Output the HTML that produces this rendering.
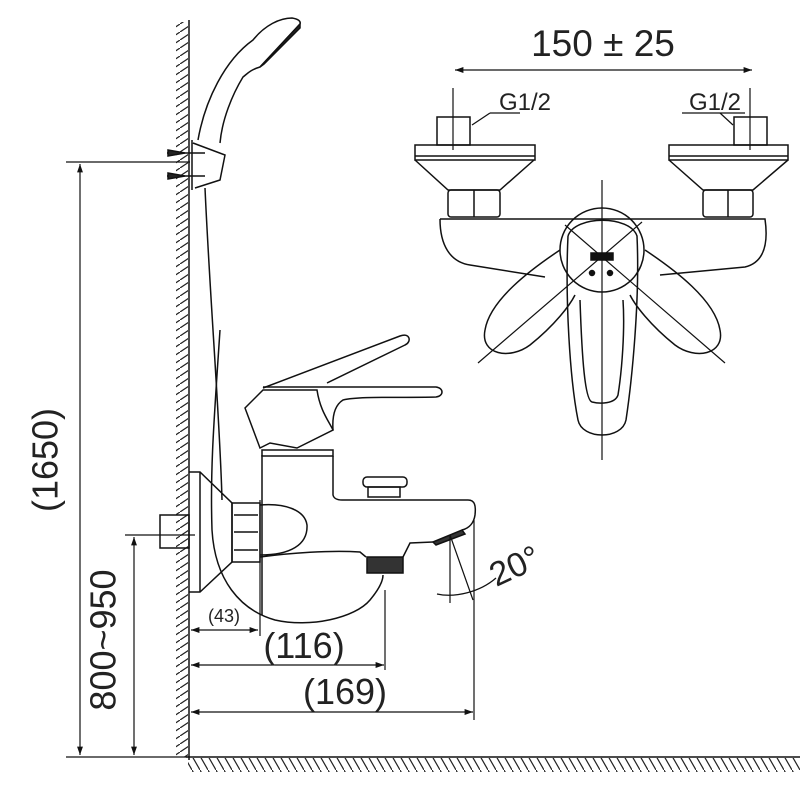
<!DOCTYPE html>
<html><head><meta charset="utf-8"><style>
html,body{margin:0;padding:0;background:#fff;width:800px;height:800px;overflow:hidden}
svg{display:block}
text{font-family:"Liberation Sans",sans-serif;fill:#222}
</style></head><body>
<svg width="800" height="800" viewBox="0 0 800 800" xmlns="http://www.w3.org/2000/svg">
<defs>
<pattern id="hw" width="12" height="8" patternUnits="userSpaceOnUse"><line x1="0" y1="8" x2="12" y2="0" stroke="#222" stroke-width="1.2"/></pattern>
<pattern id="hf" width="8" height="14" patternUnits="userSpaceOnUse"><line x1="0" y1="0" x2="8" y2="14" stroke="#222" stroke-width="1.2"/></pattern>
<marker id="a" viewBox="0 0 10 10" refX="10" refY="5" markerWidth="10" markerHeight="7" orient="auto-start-reverse"><path d="M0,1.5 L10,5 L0,8.5z" fill="#111"/></marker>
</defs>
<g fill="none" stroke="#111" stroke-width="1.5">
<rect x="176" y="22" width="12" height="735" fill="url(#hw)" stroke="none"/>
<line x1="189" y1="20" x2="189" y2="760"/>
<rect x="188" y="758" width="612" height="14" fill="url(#hf)" stroke="none"/>
<line x1="186" y1="757" x2="800" y2="757"/>

<line x1="66" y1="162" x2="190" y2="162" stroke-width="1.2"/>
<line x1="66" y1="757" x2="190" y2="757" stroke-width="1.2"/>
<line x1="80" y1="164" x2="80" y2="755" stroke-width="1.2" marker-start="url(#a)" marker-end="url(#a)"/>
<line x1="134" y1="537" x2="134" y2="755" stroke-width="1.2" marker-start="url(#a)" marker-end="url(#a)"/>
<line x1="125" y1="535" x2="195" y2="535" stroke-width="1.2"/>

<line x1="191" y1="630" x2="258" y2="630" stroke-width="1.2" marker-start="url(#a)" marker-end="url(#a)"/>
<line x1="191" y1="665" x2="384" y2="665" stroke-width="1.2" marker-start="url(#a)" marker-end="url(#a)"/>
<line x1="191" y1="712" x2="473" y2="712" stroke-width="1.2" marker-start="url(#a)" marker-end="url(#a)"/>
<line x1="260" y1="500" x2="260" y2="636" stroke-width="1.2"/>
<line x1="385" y1="590" x2="385" y2="670" stroke-width="1.2"/>
<line x1="474" y1="520" x2="474" y2="720" stroke-width="1.2"/>

<path d="M198,140 C205,100 225,60 253,40 C265,25 280,18 292,18 C298,19 301,21 300,24 L260,67 C250,70 247,74 243,77 C232,95 222,120 220,143"/>
<path d="M300,24 L260,67 L264,64 L300,28z" fill="#222"/>
<path d="M192,140 L192,190 M193,143 L225,155 L220,180 L195,188"/>
<line x1="167" y1="153" x2="205" y2="153"/><line x1="167" y1="176" x2="205" y2="176"/>
<path d="M168,150 L185,153 L168,156z M168,173 L185,176 L168,179z" fill="#222"/>
<path d="M205,188 C210,300 220,420 222,500"/>
<path d="M220,330 C214,420 210,470 212,530 C215,580 240,610 275,620 C310,628 355,618 370,600 C380,588 383,580 383,575"/>

<rect x="160" y="515" width="29" height="33"/>
<path d="M189,472 L200,472 L232,503 L232,562 L200,592 L189,592"/>
<line x1="200" y1="472" x2="200" y2="592"/>
<rect x="232" y="503" width="28" height="59"/>
<line x1="234" y1="515" x2="258" y2="515"/><line x1="234" y1="532" x2="258" y2="532"/><line x1="234" y1="550" x2="258" y2="550"/>
<path d="M262,455 L262,615"/>
<rect x="262" y="450" width="71" height="6"/>
<path d="M333,456 L333,495 C334,499 338,500 342,500 L468,500 C475,500 476,506 475,515 C474,522 470,528 462,530"/>
<path d="M260,505 C285,503 305,510 307,525 C308,545 290,555 260,555"/>
<path d="M260,557 C290,553 330,550 360,552 L366,557 M403,557 L410,543 L433,542"/>
<rect x="367" y="557" width="36" height="16" fill="#333"/>
<path d="M433,542 L462,530 L465,534 L436,545z" fill="#333"/>
<rect x="363" y="477" width="44" height="10" rx="4"/>
<rect x="368" y="487" width="32" height="10"/>
<path d="M263,388 L400,336 C410,332 412,342 405,345 L327,383"/>
<path d="M263,387 L436,387 C444,388 444,396 436,397 C400,398 360,396 343,400 C335,405 332,415 333,430"/>
<path d="M245,408 L263,390 L317,390 C320,410 328,420 333,430 L297,448 L270,443 L260,448 Z"/>
<line x1="450" y1="535" x2="450" y2="603" stroke-width="1.2"/>
<line x1="450" y1="535" x2="473" y2="600" stroke-width="1.2"/>
<path d="M437,594 C455,598 480,592 496,578" stroke-width="1.2"/>

<line x1="455" y1="70" x2="752" y2="70" stroke-width="1.2" marker-start="url(#a)" marker-end="url(#a)"/>
<line x1="453" y1="88" x2="453" y2="150" stroke-width="1.2"/>
<line x1="750" y1="88" x2="750" y2="150" stroke-width="1.2"/>
<line x1="490" y1="113" x2="520" y2="113" stroke-width="1.2"/><line x1="490" y1="113" x2="472" y2="125" stroke-width="1.2"/>
<line x1="682" y1="113" x2="745" y2="113" stroke-width="1.2"/><line x1="720" y1="113" x2="733" y2="125" stroke-width="1.2"/>
<rect x="437" y="117" width="33" height="28"/><rect x="734" y="117" width="33" height="28"/>
<rect x="415" y="145" width="120" height="15"/><rect x="669" y="145" width="119" height="15"/>
<line x1="415" y1="156" x2="535" y2="156"/><line x1="669" y1="156" x2="788" y2="156"/>
<path d="M415,160 L448,190 L500,190 L534,160 M669,160 L703,190 L753,190 L788,160"/>
<rect x="448" y="190" width="52" height="27" rx="3"/><line x1="474" y1="190" x2="474" y2="217"/>
<rect x="703" y="190" width="50" height="27" rx="3"/><line x1="728" y1="190" x2="728" y2="217"/>
<path d="M440,219 L765,219 C768,240 766,262 745,267 L660,275 M440,219 C440,245 450,262 470,265 L545,277"/>
<path d="M602,180 L602,460" stroke-width="1.2"/>
<line x1="478" y1="363" x2="642" y2="222" stroke-width="1.2"/>
<line x1="725" y1="363" x2="565" y2="225" stroke-width="1.2"/>
<circle cx="602" cy="250" r="42"/>
<path d="M568,236 C565,300 570,380 578,420 C582,440 622,440 626,420 C632,380 640,300 637,236 C630,215 575,215 568,236"/>
<path d="M580,300 C582,360 585,400 592,402 C600,404 615,404 618,395 C622,370 625,330 623,300"/>
<path d="M560,250 C530,270 490,300 485,330 C480,355 510,360 530,345 C555,325 570,305 575,295"/>
<path d="M645,250 C675,270 715,300 720,330 C725,355 695,360 675,345 C650,325 635,305 630,295"/>
<rect x="591" y="253" width="22" height="7" fill="#111"/>
<circle cx="592" cy="273" r="2.5" fill="#111"/><circle cx="610" cy="273" r="2.5" fill="#111"/>
</g>
<g>
<text x="48" y="460" font-size="36" text-anchor="middle" transform="rotate(-90 48 460)" dominant-baseline="middle">(1650)</text>
<text x="106" y="640" font-size="36" text-anchor="middle" transform="rotate(-90 106 640)" dominant-baseline="middle">800~950</text>
<text x="224" y="622" font-size="18" text-anchor="middle" fill="#555">(43)</text>
<text x="304" y="658" font-size="36" text-anchor="middle">(116)</text>
<text x="345" y="704" font-size="36" text-anchor="middle">(169)</text>
<text x="603" y="56" font-size="37" text-anchor="middle">150 ± 25</text>
<text x="525" y="110" font-size="24" text-anchor="middle">G1/2</text>
<text x="715" y="110" font-size="24" text-anchor="middle">G1/2</text>
<text x="512" y="578" font-size="34" text-anchor="middle" transform="rotate(-25 512 560)">20°</text>
</g>
</svg>
</body></html>
